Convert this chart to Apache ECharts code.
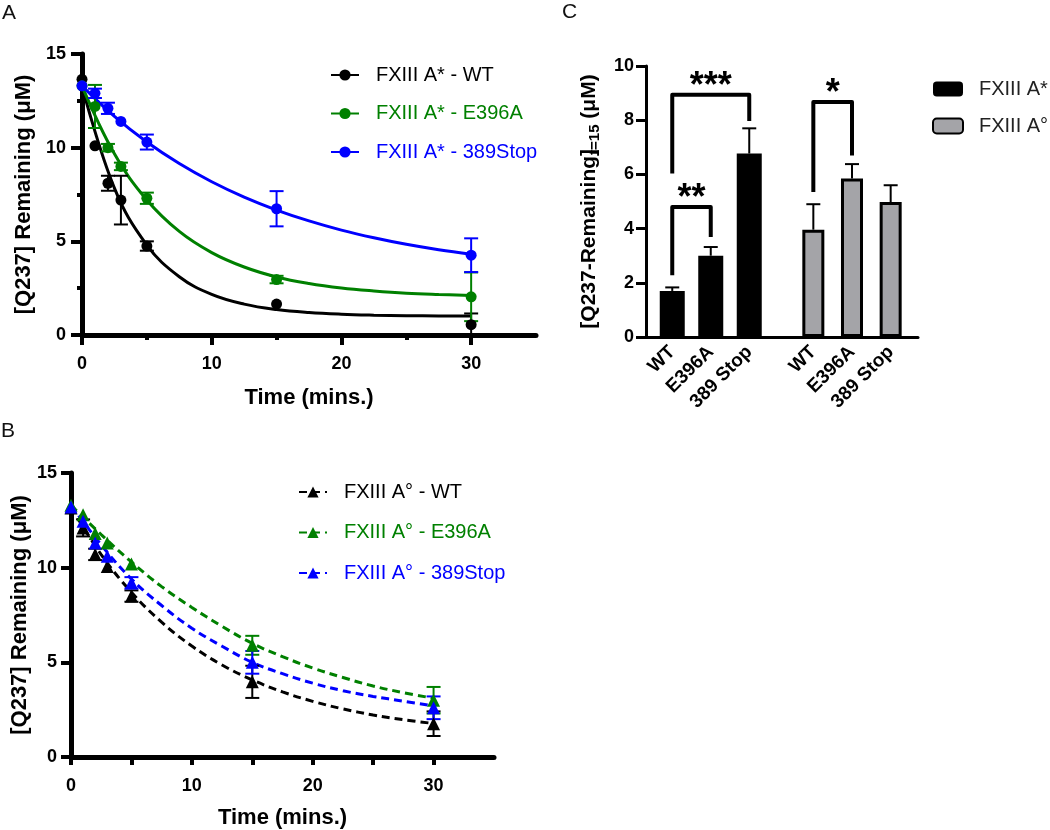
<!DOCTYPE html>
<html><head><meta charset="utf-8">
<script src="https://cdn.jsdelivr.net/npm/echarts@6/dist/echarts.min.js"></script>
<style>html,body{margin:0;padding:0;background:#fff}#c{width:1050px;height:830px}</style>
</head><body><div id="c"></div>
<script>
// ---------- data ----------
const times = [0, 1, 2, 3, 5, 15, 30];
const curveTimes = [0, 2.5, 5, 7.5, 10, 12.5, 15, 17.5, 20, 22.5, 25, 27.5, 30];

// Panel A (FXIII A*)
const aNames = ['FXIII A* - WT', 'FXIII A* - E396A', 'FXIII A* - 389Stop'];
const aWT = [13.65, 10.1, 8.1, 7.2, 4.75, 1.65, 0.55];
const aE396A = [13.3, 12.2, 10.0, 9.0, 7.3, 2.96, 2.04];
const a389 = [13.3, 12.9, 12.1, 11.4, 10.3, 6.74, 4.26];
const aWTErr = [0, 0, 0.4, 1.3, 0.25, 0, 0.6];
const aE396AErr = [0, 1.15, 0.2, 0.2, 0.3, 0.2, 1.3];
const a389Err = [0, 0.25, 0.3, 0, 0.4, 0.94, 0.9];
const aWTFit = [13.3, 7.84, 4.8, 3.11, 2.17, 1.65, 1.36, 1.2, 1.11, 1.06, 1.03, 1.02, 1.01];
const aE396AFit = [13.3, 9.67, 7.21, 5.53, 4.4, 3.63, 3.1, 2.75, 2.51, 2.35, 2.23, 2.16, 2.11];
const a389Fit = [13.3, 11.67, 10.3, 9.15, 8.18, 7.36, 6.67, 6.09, 5.6, 5.19, 4.84, 4.55, 4.31];

// Panel B (FXIII A°)
const bNames = ['FXIII A° - WT', 'FXIII A° - E396A', 'FXIII A° - 389Stop'];
const bWT = [13.15, 12.1, 10.7, 10.06, 8.5, 3.97, 1.76];
const bE396A = [13.3, 12.8, 11.8, 11.3, 10.2, 5.9, 3.0];
const b389 = [13.2, 12.45, 11.3, 10.6, 9.2, 5.0, 2.6];
const bWTErr = [0, 0.45, 0.3, 0, 0.3, 0.85, 0.65];
const bE396AErr = [0, 0, 0, 0, 0, 0.5, 0.7];
const b389Err = [0, 0, 0, 0, 0.3, 0.6, 0.6];
const bWTFit = [13.2, 10.69, 8.7, 7.12, 5.86, 4.86, 4.07, 3.44, 2.94, 2.54, 2.22, 1.97, 1.77];
const bE396AFit = [13.3, 11.75, 10.3, 9.0, 7.9, 6.9, 6.0, 5.3, 4.7, 4.2, 3.75, 3.4, 3.1];
const b389Fit = [13.3, 11.2, 9.4, 8.0, 6.8, 5.85, 5.0, 4.4, 3.9, 3.5, 3.2, 2.95, 2.7];

// Panel C
const cats = ['WT', 'E396A', '389 Stop'];
const cNames = ['FXIII A*', 'FXIII A°'];
const cStar = [1.7, 3.0, 6.77];
const cStarErr = [0.13, 0.32, 0.93];
const cDeg = [3.96, 5.85, 4.98];
const cDegErr = [0.94, 0.53, 0.62];
const sigLabels = ['***', '**', '*'];
const sigGroup = [0, 0, 1];
const sigFrom = ['WT', 'WT', 'WT'];
const sigTo = ['389 Stop', 'E396A', 'E396A'];
const sigTop = [8.94, 4.8, 8.67];
const sigLeftEnd = [6.03, 2.28, 5.35];
const sigRightEnd = [7.97, 3.69, 6.7];

// ---------- styling ----------
const FONT = '"Liberation Sans", Arial, Helvetica, sans-serif';
const colors = ['#000000', '#008000', '#0000ff'];
const GREY = '#a4a4a8';

const chart = echarts.init(document.getElementById('c'));

function errorSeries(xi, yi, xs, ys, errs, color, upOnly) {
  return {
    type: 'custom', xAxisIndex: xi, yAxisIndex: yi, clip: true, z: 3, silent: true,
    data: xs.map((x, i) => [x, ys[i], errs[i]]),
    renderItem(params, api) {
      const e = api.value(2);
      if (!e) return null;
      const x = api.value(0), y = api.value(1);
      const p0 = api.coord([x, upOnly ? y : y - e]);
      const p1 = api.coord([x, y + e]);
      const hw = 7;
      const st = { stroke: color, lineWidth: 2 };
      const ch = [
        { type: 'line', shape: { x1: p0[0], y1: p0[1], x2: p1[0], y2: p1[1] }, style: st },
        { type: 'line', shape: { x1: p1[0] - hw, y1: p1[1], x2: p1[0] + hw, y2: p1[1] }, style: st }
      ];
      if (!upOnly) ch.push({ type: 'line', shape: { x1: p0[0] - hw, y1: p0[1], x2: p0[0] + hw, y2: p0[1] }, style: st });
      return { type: 'group', children: ch };
    }
  };
}

function curveSeries(xi, yi, name, fit, color, symbol, dashed) {
  return {
    type: 'line', name, xAxisIndex: xi, yAxisIndex: yi, z: 2,
    data: curveTimes.map((t, i) => [t, fit[i]]),
    smooth: 0.4, showSymbol: false, symbol, symbolSize: 11,
    itemStyle: { color },
    lineStyle: { color, width: 3, type: dashed ? [8, 5] : 'solid' },
    silent: true
  };
}

function pointSeries(xi, yi, name, vals, color, symbol, size) {
  return {
    type: 'scatter', name: name + ' pts', xAxisIndex: xi, yAxisIndex: yi, z: 4,
    data: times.map((t, i) => [t, vals[i]]),
    symbol, symbolSize: size, itemStyle: { color, opacity: 1 }, silent: true
  };
}

function bracketSeries(xi, yi, group) {
  const idx = sigLabels.map((s, i) => i).filter(i => sigGroup[i] === group);
  return {
    type: 'custom', xAxisIndex: xi, yAxisIndex: yi, z: 6, silent: true, clip: false,
    data: idx.map(i => [cats.indexOf(sigFrom[i]), cats.indexOf(sigTo[i]), sigTop[i], sigLeftEnd[i], sigRightEnd[i], i]),
    encode: { x: [0, 1], y: [2, 3, 4] },
    renderItem(params, api) {
      const f = api.value(0), t = api.value(1);
      const a = api.coord([f, api.value(3)]);
      const b = api.coord([f, api.value(2)]);
      const c = api.coord([t, api.value(2)]);
      const d = api.coord([t, api.value(4)]);
      return {
        type: 'group', children: [
          { type: 'polyline', shape: { points: [a, b, c, d] },
            style: { stroke: '#000', lineWidth: 4, fill: null, lineJoin: 'round', lineCap: 'butt' } },
          { type: 'text', x: (b[0] + c[0]) / 2, y: b[1] - 8,
            style: { text: sigLabels[api.value(5)], fontSize: 36, fontWeight: 'bold', fontFamily: FONT,
                     align: 'center', verticalAlign: 'middle', fill: '#000' } }
        ]
      };
    }
  };
}

const tickLabel = { color: '#000', fontFamily: FONT, fontSize: 18, fontWeight: 'bold' };
const titleStyle = { color: '#000', fontFamily: FONT, fontSize: 22, fontWeight: 'bold' };

const series = [];
// Panel A
[aWTFit, aE396AFit, a389Fit].forEach((f, i) => series.push(curveSeries(0, 0, aNames[i], f, colors[i], 'circle', false)));
[[aWT, aWTErr], [aE396A, aE396AErr], [a389, a389Err]].forEach((p, i) => series.push(errorSeries(0, 0, times, p[0], p[1], colors[i], false)));
[aWT, aE396A, a389].forEach((v, i) => series.push(pointSeries(0, 0, aNames[i], v, colors[i], 'circle', 11)));
// Panel B
[bWTFit, bE396AFit, b389Fit].forEach((f, i) => series.push(curveSeries(2, 1, bNames[i], f, colors[i], 'triangle', true)));
[[bWT, bWTErr], [bE396A, bE396AErr], [b389, b389Err]].forEach((p, i) => series.push(errorSeries(2, 1, times, p[0], p[1], colors[i], false)));
[bWT, bE396A, b389].forEach((v, i) => series.push(pointSeries(2, 1, bNames[i], v, colors[i], 'triangle', 13)));
// Panel C
series.push({
  type: 'bar', name: cNames[0], xAxisIndex: 4, yAxisIndex: 3, data: cStar, barWidth: 25,
  itemStyle: { color: '#000', borderColor: '#000', borderWidth: 0 }, silent: true, z: 2
});
series.push({
  type: 'bar', name: cNames[1], xAxisIndex: 5, yAxisIndex: 4, data: cDeg, barWidth: 22,
  itemStyle: { color: GREY, borderColor: '#000', borderWidth: 3 }, silent: true, z: 2
});
series.push(errorSeries(4, 3, cats, cStar, cStarErr, '#000', true));
series.push(errorSeries(5, 4, cats, cDeg, cDegErr, '#000', true));
series.push(bracketSeries(4, 3, 0));
series.push(bracketSeries(5, 4, 1));

function legendCfg(names, left, top, gap, iw, ih, pad, colored) {
  return {
    orient: 'vertical', left, top, itemWidth: iw, itemHeight: ih, itemGap: gap,
    selectedMode: false,
    data: names.map((n, i) => ({ name: n, textStyle: { color: colored ? colors[i] : '#222' } })),
    textStyle: { fontFamily: FONT, fontSize: 20, lineHeight: 20, padding: [0, 0, 0, pad] }
  };
}

const option = {
  animation: false,
  backgroundColor: '#fff',
  graphic: [
    { type: 'text', left: 2, top: 3, style: { text: 'A', fontSize: 21, fontFamily: FONT, fill: '#111' } },
    { type: 'text', left: 1, top: 421, style: { text: 'B', fontSize: 21, fontFamily: FONT, fill: '#111' } },
    { type: 'text', left: 562, top: 2, style: { text: 'C', fontSize: 21, fontFamily: FONT, fill: '#111' } }
  ],
  legend: [
    legendCfg(aNames, 325, 60, 18.5, 28, 14, 12, true),
    legendCfg(bNames, 293, 477, 20.5, 28, 14, 12, true),
    Object.assign(legendCfg(cNames, 927, 74, 17, 30, 15, 11, false), { icon: 'roundRect' })
  ],
  grid: [
    { left: 82, top: 54, width: 454, height: 281, outerBoundsMode: 'none' },
    { left: 71, top: 473, width: 423, height: 284, outerBoundsMode: 'none' },
    { left: 646, top: 66, width: 272, height: 271, outerBoundsMode: 'none' },
    { left: 653, top: 66, width: 115.5, height: 271, outerBoundsMode: 'none' },
    { left: 794, top: 66, width: 116, height: 271, outerBoundsMode: 'none' }
  ],
  xAxis: [
    { // 0: A main
      type: 'value', gridIndex: 0, min: 0, max: 35, position: 'bottom',
      axisLine: { lineStyle: { color: '#000', width: 5 } },
      axisTick: { length: 10, lineStyle: { color: '#000', width: 4 }, customValues: [0, 10, 20, 30] },
      axisLabel: Object.assign({ margin: 20, customValues: [0, 10, 20, 30] }, tickLabel),
      splitLine: { show: false },
      name: 'Time (mins.)', nameLocation: 'middle', nameGap: 52, nameTextStyle: titleStyle, nameMoveOverlap: false
    },
    { // 1: A minor ticks
      type: 'value', gridIndex: 0, min: 0, max: 35, position: 'bottom',
      axisLine: { show: false },
      axisTick: { length: 5, lineStyle: { color: '#000', width: 4 }, customValues: [5, 15, 25] },
      axisLabel: { show: false }, splitLine: { show: false }
    },
    { // 2: B
      type: 'value', gridIndex: 1, min: 0, max: 35, position: 'bottom',
      axisLine: { lineStyle: { color: '#000', width: 5 } },
      axisTick: { length: 8, lineStyle: { color: '#000', width: 4 }, customValues: [0, 5, 10, 15, 20, 25, 30] },
      axisLabel: Object.assign({ margin: 20, customValues: [0, 10, 20, 30] }, tickLabel),
      splitLine: { show: false },
      name: 'Time (mins.)', nameLocation: 'middle', nameGap: 50, nameTextStyle: titleStyle, nameMoveOverlap: false
    },
    { // 3: C frame
      type: 'value', gridIndex: 2, min: 0, max: 1, position: 'bottom',
      axisLine: { lineStyle: { color: '#000', width: 3 } },
      axisTick: { show: false }, axisLabel: { show: false }, splitLine: { show: false }
    },
    { // 4: C group 1
      type: 'category', gridIndex: 3, data: cats, position: 'bottom',
      axisLine: { show: false },
      axisTick: { alignWithLabel: true, length: 9, lineStyle: { color: '#000', width: 3 } },
      axisLabel: Object.assign({ rotate: 45, margin: 12, interval: 0 }, tickLabel, { fontSize: 19 }),
      splitLine: { show: false }
    },
    { // 5: C group 2
      type: 'category', gridIndex: 4, data: cats, position: 'bottom',
      axisLine: { show: false },
      axisTick: { alignWithLabel: true, length: 9, lineStyle: { color: '#000', width: 3 } },
      axisLabel: Object.assign({ rotate: 45, margin: 12, interval: 0 }, tickLabel, { fontSize: 19 }),
      splitLine: { show: false }
    }
  ],
  yAxis: [
    { // 0: A
      type: 'value', gridIndex: 0, min: 0, max: 15, interval: 5,
      axisLine: { show: true, lineStyle: { color: '#000', width: 5 } },
      axisTick: { show: true, length: 11, lineStyle: { color: '#000', width: 4 } },
      minorTick: { show: true, splitNumber: 2, length: 5, lineStyle: { color: '#000', width: 4 } },
      axisLabel: Object.assign({ margin: 16 }, tickLabel),
      splitLine: { show: false }, minorSplitLine: { show: false },
      name: '[Q237] Remaining (μM)', nameLocation: 'middle', nameGap: 47, nameTextStyle: titleStyle, nameMoveOverlap: false
    },
    { // 1: B
      type: 'value', gridIndex: 1, min: 0, max: 15, interval: 5,
      axisLine: { show: true, lineStyle: { color: '#000', width: 5 } },
      axisTick: { show: true, length: 10, lineStyle: { color: '#000', width: 4 } },
      axisLabel: Object.assign({ margin: 14 }, tickLabel),
      splitLine: { show: false },
      name: '[Q237] Remaining (μM)', nameLocation: 'middle', nameGap: 40, nameTextStyle: titleStyle, nameMoveOverlap: false
    },
    { // 2: C frame
      type: 'value', gridIndex: 2, min: 0, max: 10, interval: 2,
      axisLine: { show: true, lineStyle: { color: '#000', width: 3 } },
      axisTick: { show: true, length: 10, lineStyle: { color: '#000', width: 3 } },
      axisLabel: Object.assign({ margin: 12 }, tickLabel),
      splitLine: { show: false },
      name: '{b|[Q237-Remaining]}{s|t=15}{r| (μM)}', nameLocation: 'middle', nameGap: 44, nameMoveOverlap: false,
      nameTextStyle: {
        color: '#000', fontFamily: FONT, fontSize: 21, fontWeight: 'bold',
        rich: {
          b: { fontFamily: FONT, fontSize: 21, fontWeight: 'bold', color: '#000' },
          s: { fontFamily: FONT, fontSize: 15, color: '#000', padding: [10, 0, 0, -6] },
          r: { fontFamily: FONT, fontSize: 21, color: '#000' }
        }
      }
    },
    { type: 'value', gridIndex: 3, min: 0, max: 10, show: false, splitLine: { show: false } },
    { type: 'value', gridIndex: 4, min: 0, max: 10, show: false, splitLine: { show: false } }
  ],
  series
};
chart.setOption(option);
</script>
</body></html>
